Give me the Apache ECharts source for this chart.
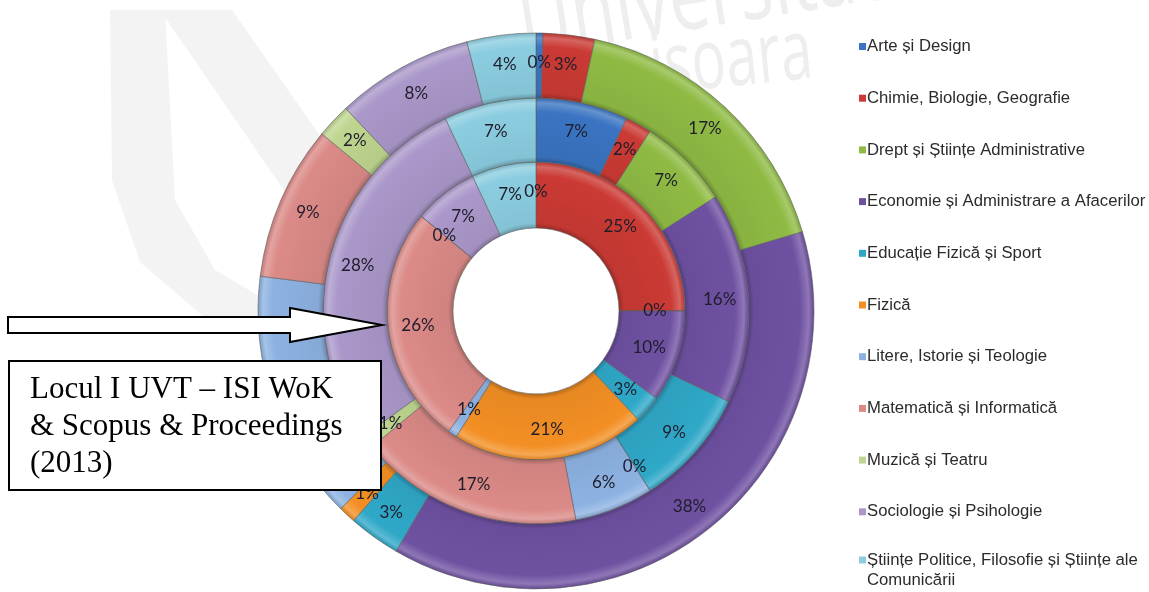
<!DOCTYPE html>
<html>
<head>
<meta charset="utf-8">
<script src="https://cdn.jsdelivr.net/npm/echarts@6/dist/echarts.min.js"></script>
<style>
  html, body { margin: 0; padding: 0; background: #fff; }
  #chart { width: 1149px; height: 592px; }
</style>
</head>
<body>
<div id="chart"></div>
<script>
// facultati (ordinea din legenda)
var categories = [
  "Arte și Design",
  "Chimie, Biologie, Geografie",
  "Drept și Științe Administrative",
  "Economie și Administrare a Afacerilor",
  "Educație Fizică și Sport",
  "Fizică",
  "Litere, Istorie și Teologie",
  "Matematică și Informatică",
  "Muzică și Teatru",
  "Sociologie și Psihologie",
  "Științe Politice, Filosofie și Științe ale Comunicării"
];
var colors = ["#3a74c2", "#cb3a34", "#8fbb44", "#6f51a2", "#2fa8c8", "#f38f24",
  "#8db2e2", "#db8a87", "#bed68f", "#ab98ca", "#8bcde0"];

// procente (inel interior -> exterior)
var innerValues = [0, 25, 0, 10, 3, 21, 1, 26, 0, 7, 7];
var middleValues = [7, 2, 7, 16, 9, 0, 6, 17, 1, 28, 7];
var outerValues = [0.4, 3, 17, 38, 3, 1, 14.6, 9, 2, 8, 4];

var cx = 536, cy = 311;
var rings = [[83, 149], [149, 213], [213, 278]];

function mix(hex, target, t) {
  var n = parseInt(hex.slice(1), 16);
  var r = n >> 16, g = (n >> 8) & 255, b = n & 255;
  r = Math.round(r + (target - r) * t);
  g = Math.round(g + (target - g) * t);
  b = Math.round(b + (target - b) * t);
  return "rgb(" + r + "," + g + "," + b + ")";
}

// umbrire radiala ca efectul de bevel din Excel
function bevel(hex, r0, r1) {
  return {
    type: "radial", x: cx, y: cy, r: r1, global: true,
    colorStops: [
      { offset: 0, color: mix(hex, 0, 0.25) },
      { offset: r0 / r1, color: mix(hex, 0, 0.25) },
      { offset: (r0 + 5) / r1, color: mix(hex, 0, 0.05) },
      { offset: (r1 - 14) / r1, color: hex },
      { offset: (r1 - 5) / r1, color: mix(hex, 255, 0.22) },
      { offset: 1, color: mix(hex, 0, 0.12) }
    ]
  };
}

function ringData(values, ring) {
  return categories.map(function (name, i) {
    return {
      name: name,
      value: values[i],
      itemStyle: { color: bevel(colors[i], ring[0], ring[1]) }
    };
  });
}

function ringSeries(values, ring) {
  return {
    type: "pie",
    center: [cx, cy],
    radius: ring,
    startAngle: 90,
    clockwise: true,
    silent: true,
    data: ringData(values, ring),
    itemStyle: { borderColor: "rgba(95,95,95,0.6)", borderWidth: 1 },
    label: {
      show: true,
      position: "inside",
      formatter: function (p) { return Math.round(p.percent) + "%"; },
      fontFamily: "Lato",
      fontSize: 17,
      color: "#1f1d2b"
    },
    labelLine: { show: false },
    emphasis: { disabled: true }
  };
}

var legendText = {
  fontFamily: "Liberation Sans",
  fontSize: 16.7,
  color: "#2b2b2b",
  padding: [0, 0, 0, -4]
};

function legendItems(from, to) {
  return categories.slice(from, to).map(function (name, i) {
    return { name: name, itemStyle: { color: colors[from + i], borderWidth: 0 } };
  });
}

var chart = echarts.init(document.getElementById("chart"));

var option = {
  backgroundColor: "#fff",
  animation: false,
  legend: [
    {
      orient: "vertical",
      left: 859,
      top: 36.5,
      padding: 0,
      itemWidth: 7,
      itemHeight: 7,
      itemGap: 31.7,
      icon: "rect",
      data: legendItems(0, 10),
      selectedMode: false,
      itemStyle: { borderWidth: 0 },
      textStyle: Object.assign({ lineHeight: 20 }, legendText)
    },
    {
      // ultimul element are doua randuri, patratul sta langa primul rand
      orient: "vertical",
      left: 859,
      top: 550,
      padding: 0,
      itemWidth: 7,
      itemHeight: 28,
      icon: "path://M0,0L7,0L7,7L0,7Z M0,27.99L0.01,27.99L0.01,28L0,28Z",
      data: legendItems(10, 11),
      selectedMode: false,
      itemStyle: { borderWidth: 0 },
      formatter: function () {
        return "Științe Politice, Filosofie și Științe ale\nComunicării";
      },
      textStyle: Object.assign({ lineHeight: 20.5 }, legendText)
    }
  ],
  graphic: [
    // filigran (sigla universitatii)
    {
      type: "polygon", z: -10, silent: true,
      shape: { points: [[110, 10], [165, 10], [175, 200], [215, 270], [300, 320], [400, 332], [330, 342], [210, 322], [140, 262], [112, 180]] },
      style: { fill: "#f3f3f3" }
    },
    {
      type: "polygon", z: -10, silent: true,
      shape: { points: [[160, 10], [232, 10], [330, 150], [395, 250], [400, 332], [325, 250]] },
      style: { fill: "#f3f3f3" }
    },
    {
      type: "text", z: -10, silent: true, x: 520, y: 28, rotation: 0.16, scaleX: 0.72,
      style: { text: "Universitatea", fontFamily: "Open Sans", fontSize: 100, fill: "#eeeeee", verticalAlign: "middle" }
    },
    {
      type: "text", z: -10, silent: true, x: 552, y: 80, rotation: 0.1, scaleX: 0.68,
      style: { text: "Timișoara", fontFamily: "Open Sans", fontSize: 84, fill: "#eeeeee", verticalAlign: "middle" }
    },
    // sageata
    {
      type: "polygon", z: 100, silent: true,
      shape: { points: [[8, 317], [290, 317], [290, 308], [382, 325], [290, 342], [290, 333], [8, 333]] },
      style: { fill: "#fff", stroke: "#000", lineWidth: 2 }
    },
    // caseta de text
    {
      type: "rect", z: 100, silent: true,
      shape: { x: 9, y: 361, width: 372, height: 129 },
      style: { fill: "#fff", stroke: "#000", lineWidth: 2 }
    },
    {
      type: "text", z: 101, silent: true, x: 30, y: 371,
      style: {
        text: "Locul I UVT – ISI WoK\n& Scopus & Proceedings\n(2013)",
        fontFamily: "Liberation Serif",
        fontSize: 31,
        lineHeight: 37,
        fill: "#000"
      }
    }
  ],
  series: [
    ringSeries(innerValues, rings[0]),
    ringSeries(middleValues, rings[1]),
    ringSeries(outerValues, rings[2])
  ]
};

chart.setOption(option);
</script>
</body>
</html>
